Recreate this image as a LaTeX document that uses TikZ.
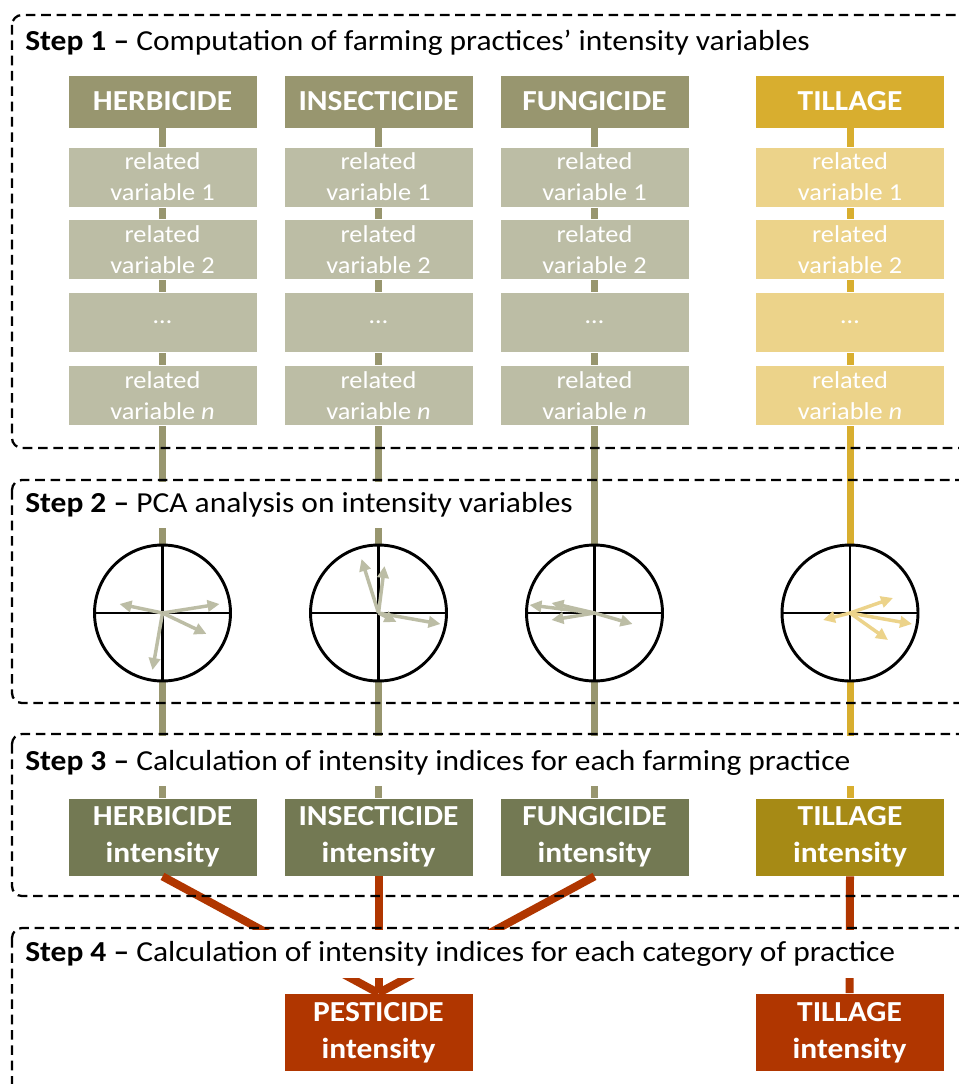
\documentclass[tikz,border=0pt]{standalone}
\usepackage{fontspec}
\setmainfont{Carlito}[FakeStretch=1.085]
\usetikzlibrary{arrows.meta}
\definecolor{cHead}{HTML}{98966F}
\definecolor{cLight}{HTML}{BCBDA5}
\definecolor{cGold}{HTML}{D8AE2F}
\definecolor{cGoldLight}{HTML}{ECD38A}
\definecolor{cDark}{HTML}{737953}
\definecolor{cDarkGold}{HTML}{A68A15}
\definecolor{cRed}{HTML}{B03600}
\newcommand{\bigtxt}{\fontsize{21.75}{27.5}\selectfont}
\newcommand{\smalltxt}{\fontsize{18.2}{23.25}\selectfont}
\begin{document}
\begin{tikzpicture}[x=0.75pt,y=-0.75pt,
  headbox/.style={fill=#1, draw=white, line width=0.6pt, minimum width=141.75pt, minimum height=39.75pt, inner sep=0pt, text=white, font=\bigtxt\bfseries},
  relbox/.style={fill=#1, draw=white, line width=0.6pt, minimum width=141.75pt, minimum height=45pt, inner sep=0pt, text=white, font=\smalltxt, align=center},
  intbox/.style={fill=#1, draw=white, line width=0.6pt, minimum width=141.75pt, minimum height=58.5pt, inner sep=0pt, text=white, font=\bigtxt\bfseries, align=center},
  colline/.style={draw=#1, line width=5.25pt},
  redline/.style={draw=cRed, line width=6pt},
  frame/.style={draw=black, line width=1.7pt, dash pattern=on 7.2pt off 4.3pt, rounded corners=7.5pt},
  steptitle/.style={anchor=base west, inner sep=0pt, font=\bigtxt},
  pca/.style={circle, draw=black, fill=white, line width=2.2pt, minimum size=102pt, inner sep=0pt},
  pcaarrow/.style={draw=#1, line width=2.6pt, -{Triangle[length=9pt,width=8.5pt]}},
]
\useasboundingbox (0,0) rectangle (958,1084);

% column centres
\def\xa{162.5}\def\xb{378.5}\def\xc{594.5}\def\xd{850}

% ---------- Step 1 nodes
\node[headbox=cHead] (hh) at (\xa,101.5) {HERBICIDE};
\node[headbox=cHead] (hi) at (\xb,101.5) {INSECTICIDE};
\node[headbox=cHead] (hf) at (\xc,101.5) {FUNGICIDE};
\node[headbox=cGold] (ht) at (\xd,101.5) {TILLAGE};

% ---------- Step 3 nodes
\node[intbox=cDark] (h3) at (\xa,837) {HERBICIDE\\intensity};
\node[intbox=cDark] (i3) at (\xb,837) {INSECTICIDE\\intensity};
\node[intbox=cDark] (f3) at (\xc,837) {FUNGICIDE\\intensity};
\node[intbox=cDarkGold] (t3) at (\xd,837) {TILLAGE\\intensity};

% ---------- Step 4 nodes
\node[intbox=cRed] (p4) at (378.5,1032.5) {PESTICIDE\\intensity};
\node[intbox=cRed] (t4) at (849.5,1032.5) {TILLAGE\\intensity};

% ---------- connectors
\path[colline=cHead] (hh.south) -- (h3.north);
\path[colline=cHead] (hi.south) -- (i3.north);
\path[colline=cHead] (hf.south) -- (f3.north);
\path[colline=cGold] (ht.south) -- (t3.north);
\path[redline] (h3.south) -- (p4.north);
\path[redline] (i3.south) -- (p4.north);
\path[redline] (f3.south) -- (p4.north);
\path[redline] (t3.south) -- (t4.north);

% ---------- related variable boxes
\foreach \c/\col/\n in {\xa/cLight/h,\xb/cLight/i,\xc/cLight/f,\xd/cGoldLight/t}{
  \node[relbox=\col] (\n r1) at (\c,177) {related\\variable 1};
  \node[relbox=\col] (\n r2) at (\c,249.5) {related\\variable 2};
  \node[relbox=\col] (\n r3) at (\c,322.5) {…};
  \node[relbox=\col] (\n rn) at (\c,395.5) {related\\variable \textit{n}};
}

% ---------- white title backgrounds
\fill[white] (14,482) rectangle (590,528);
\fill[white] (14,736) rectangle (893,786);
\fill[white] (14,930) rectangle (945,978);

% ---------- PCA circles
\foreach \c/\n in {\xa/c1,\xb/c2,\xc/c3,\xd/c4}{
  \node[pca] (\n) at (\c,613) {};
  \draw[line width=2.2pt] (\n.north) -- (\n.south);
  \draw[line width=2.2pt] (\n.west) -- (\n.east);
}
\draw[pcaarrow=cLight] (c1.center) -- ++(57,-9);
\draw[pcaarrow=cLight] (c1.center) -- ++(-43,-9);
\draw[pcaarrow=cLight] (c1.center) -- ++(44,21);
\draw[pcaarrow=cLight] (c1.center) -- ++(-10,57);

\draw[pcaarrow=cLight] (c2.center) -- ++(-17,-54);
\draw[pcaarrow=cLight] (c2.center) -- ++(6,-47);
\draw[pcaarrow=cLight] (c2.center) -- ++(62,11);
\draw[pcaarrow=cLight] (c2.center) -- ++(18,9);

\draw[pcaarrow=cLight] (c3.center) -- ++(-65,-8);
\draw[pcaarrow=cLight] (c3.center) -- ++(-43,-10);
\draw[pcaarrow=cLight] (c3.center) -- ++(-43,7);
\draw[pcaarrow=cLight] (c3.center) -- ++(38,11);

\draw[pcaarrow=cGoldLight] (c4.center) -- ++(43,-15);
\draw[pcaarrow=cGoldLight] (c4.center) -- ++(62,11);
\draw[pcaarrow=cGoldLight] (c4.center) -- ++(38,27);
\draw[pcaarrow=cGoldLight] (c4.center) -- ++(-27,7);

% ---------- dashed frames
\draw[frame] (12,15) rectangle (990,448);
\draw[frame] (12,480) rectangle (990,703);
\draw[frame] (12,734) rectangle (990,896);
\draw[frame] (12,928) rectangle (990,1120);

% ---------- titles
\node[steptitle] (s1) at (25,50.7) {\textbf{Step 1 –} Computation of farming practices’ intensity variables};
\node[steptitle] (s2) at (25,512.7) {\textbf{Step 2 –} PCA analysis on intensity variables};
\node[steptitle] (s3) at (25,770) {\textbf{Step 3 –} Calculation of intensity indices for each farming practice};
\node[steptitle] (s4) at (25,961.7) {\textbf{Step 4 –} Calculation of intensity indices for each category of practice};
\end{tikzpicture}
\end{document}
